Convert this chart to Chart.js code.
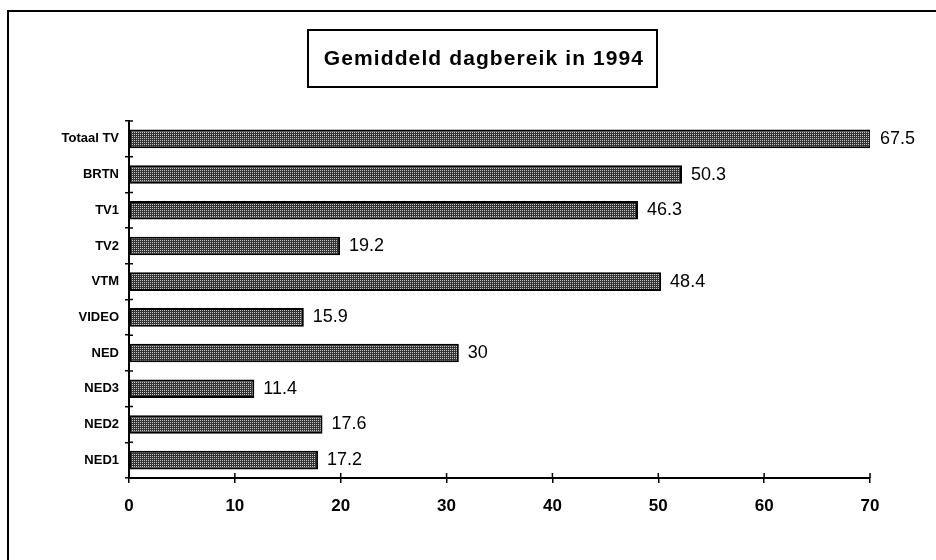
<!DOCTYPE html>
<html>
<head>
<meta charset="utf-8">
<script src="https://cdn.jsdelivr.net/npm/chart.js@4/dist/chart.umd.min.js"></script>
<style>
  html, body { margin: 0; padding: 0; background: #fff; }
  #wrap { position: relative; width: 936px; height: 560px; overflow: hidden; }
  #frame { position: absolute; left: 7px; top: 10px; width: 940px; height: 560px;
           border-left: 2px solid #000; border-top: 2px solid #000; }
  canvas { position: absolute; left: 0; top: 0; }
</style>
</head>
<body>
<div id="wrap">
  <div id="frame"></div>
  <canvas id="bar-chart-canvas" width="936" height="560"></canvas>
</div>
<script>
// values
const categories = ['Totaal TV', 'BRTN', 'TV1', 'TV2', 'VTM', 'VIDEO', 'NED', 'NED3', 'NED2', 'NED1'];
const reach = [67.5, 50.3, 46.3, 19.2, 48.4, 15.9, 30, 11.4, 17.6, 17.2];
const xTicks = [0, 10, 20, 30, 40, 50, 60, 70];
const chartTitle = 'Gemiddeld dagbereik in 1994';

// stippled grey fill like the scanned print
const makePattern = () => {
    const c = document.createElement('canvas');
    c.width = 4; c.height = 4;
    const g = c.getContext('2d');
    g.fillStyle = '#333';
    g.fillRect(0, 0, 4, 4);
    g.fillStyle = '#c8c8c8';
    g.fillRect(0, 0, 1, 1);
    g.fillRect(2, 2, 1, 1);
    g.fillRect(2, 0, 1, 1);
    g.fillRect(0, 2, 1, 1);
    return g.createPattern(c, 'repeat');
};

// boxed title
const titleBox = {
    id: 'titleBox',
    afterDraw(chart) {
        const ctx = chart.ctx;
        ctx.save();
        ctx.strokeStyle = '#000';
        ctx.lineWidth = 2;
        ctx.strokeRect(308, 30, 349, 57);
        ctx.fillStyle = '#000';
        ctx.font = 'bold 21px "Liberation Sans", Arial, sans-serif';
        ctx.letterSpacing = '1.1px';
        ctx.textAlign = 'center';
        ctx.textBaseline = 'middle';
        ctx.fillText(chartTitle, 484, 59);
        ctx.restore();
    }
};

// value next to each bar
const valueLabels = {
    id: 'valueLabels',
    afterDatasetsDraw(chart) {
        const ctx = chart.ctx;
        const meta = chart.getDatasetMeta(0);
        ctx.save();
        ctx.fillStyle = '#000';
        ctx.font = '18px "Liberation Sans", Arial, sans-serif';
        ctx.textAlign = 'left';
        ctx.textBaseline = 'middle';
        meta.data.forEach((bar, i) => {
            ctx.fillText(String(reach[i]), bar.x + 9, bar.y);
        });
        ctx.restore();
    }
};

// small tick marks crossing into the plot side
const innerTicks = {
    id: 'innerTicks',
    afterDraw(chart) {
        const ctx = chart.ctx;
        const x = chart.scales.x, y = chart.scales.y;
        ctx.save();
        ctx.strokeStyle = '#000';
        ctx.lineWidth = 1.5;
        ctx.beginPath();
        for (const v of xTicks) {
            const px = x.getPixelForValue(v);
            ctx.moveTo(px, y.bottom);
            ctx.lineTo(px, y.bottom - 5);
        }
        const step = (y.bottom - y.top) / categories.length;
        for (let i = 0; i <= categories.length; i++) {
            const py = y.top + i * step;
            ctx.moveTo(x.left, py);
            ctx.lineTo(x.left + 4, py);
        }
        ctx.stroke();
        ctx.restore();
    }
};

new Chart(document.getElementById('bar-chart-canvas'), {
    type: 'bar',
    data: {
        labels: categories,
        datasets: [{
            data: reach,
            xAxisID: 'xv',
            backgroundColor: makePattern(),
            borderColor: '#000',
            borderWidth: 2,
            borderSkipped: false,
            categoryPercentage: 1,
            barPercentage: 0.52
        }]
    },
    options: {
        indexAxis: 'y',
        responsive: false,
        animation: false,
        layout: { padding: { left: 0, right: 66, top: 121, bottom: 0 } },
        plugins: {
            legend: { display: false },
            tooltip: { enabled: false }
        },
        scales: {
            // the printed bars run a bit longer than the printed axis, so they get their own hidden scale
            xv: {
                type: 'linear',
                axis: 'x',
                position: 'bottom',
                display: false,
                min: 0,
                max: 67.4
            },
            x: {
                type: 'linear',
                position: 'bottom',
                min: 0,
                max: 70,
                afterBuildTicks: (s) => { s.ticks = xTicks.map(v => ({ value: v })); },
                afterFit: (s) => { s.height = 82; },
                border: { color: '#000', width: 2 },
                grid: { drawOnChartArea: false, color: '#000', tickLength: 5, lineWidth: 1.5 },
                ticks: {
                    color: '#000',
                    padding: 13,
                    font: { family: '"Liberation Sans", Arial, sans-serif', size: 17, weight: 'bold' }
                }
            },
            y: {
                afterFit: (s) => { s.width = 129; },
                border: { color: '#000', width: 2 },
                grid: { drawOnChartArea: false, color: '#000', tickLength: 4, lineWidth: 1.5 },
                ticks: {
                    color: '#000',
                    padding: 6,
                    font: { family: '"Liberation Sans", Arial, sans-serif', size: 13, weight: 'bold' }
                }
            }
        }
    },
    plugins: [titleBox, valueLabels, innerTicks]
});
</script>
</body>
</html>
